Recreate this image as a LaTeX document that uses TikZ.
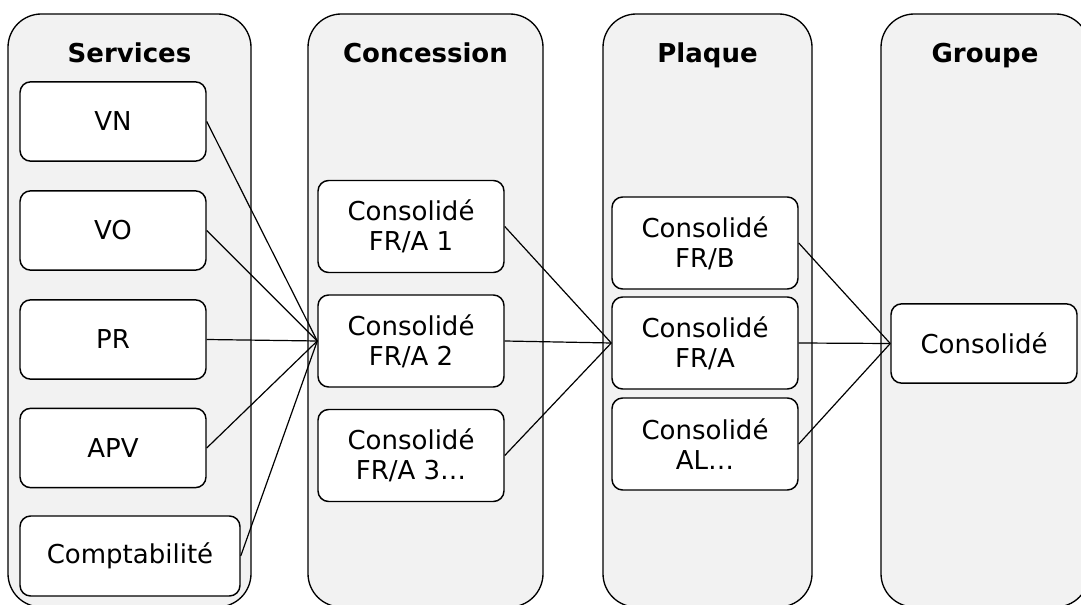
\documentclass[tikz,border=0pt]{standalone}
\usepackage{fontspec}
\setmainfont{DejaVu Sans}
\begin{document}
\begin{tikzpicture}[x=0.75pt,y=-0.75pt,
  colonne/.style={draw,line width=1pt,fill=black!5,rounded corners=25pt},
  titre/.style={anchor=base,font=\fontsize{19.5}{22.5}\selectfont\bfseries},
  boite/.style={draw,line width=1.1pt,fill=white,rounded corners=8pt,align=center,inner sep=0pt,font=\fontsize{19.5}{22.5}\selectfont},
  svc/.style={boite,minimum width=139.5pt,minimum height=59.5pt},
  cons/.style={boite,minimum width=139.5pt,minimum height=69pt},
  lien/.style={line width=0.9pt}]
\useasboundingbox (0,0) rectangle (1081,605);
\draw[colonne] (8,14) rectangle (251,607);
\draw[colonne] (308,14) rectangle (543,607);
\draw[colonne] (603,14) rectangle (812,607);
\draw[colonne] (881,14) rectangle (1089,607);
\node[titre] (tServices) at (129.5,63) {Services};
\node[titre] (tConcession) at (425.5,63) {Concession};
\node[titre] (tPlaque) at (707.5,63) {Plaque};
\node[titre] (tGroupe) at (985,63) {Groupe};
\node[svc] (vn) at (113,121.5) {VN};
\node[svc] (vo) at (113,230.5) {VO};
\node[svc] (pr) at (113,339.5) {PR};
\node[svc] (apv) at (113,448) {APV};
\node[svc,minimum width=165pt,minimum height=60pt] (compta) at (130,556) {Comptabilité};
\node[cons] (c1) at (411,226.5) {Consolidé\\FR/A 1};
\node[cons] (c2) at (411,341) {Consolidé\\FR/A 2};
\node[cons] (c3) at (411,455.5) {Consolidé\\FR/A 3…};
\node[cons] (p1) at (705,243) {Consolidé\\FR/B};
\node[cons] (p2) at (705,343) {Consolidé\\FR/A};
\node[cons] (p3) at (705,444) {Consolidé\\AL…};
\node[svc] (g) at (984,343.5) {Consolidé};
\foreach \s in {vn,vo,pr,apv,compta} \draw[lien] (\s.east) -- (c2.west);
\foreach \s in {c1,c2,c3} \draw[lien] (\s.east) -- (p2.west);
\foreach \s in {p1,p2,p3} \draw[lien] (\s.east) -- (g.west);
\end{tikzpicture}
\end{document}
